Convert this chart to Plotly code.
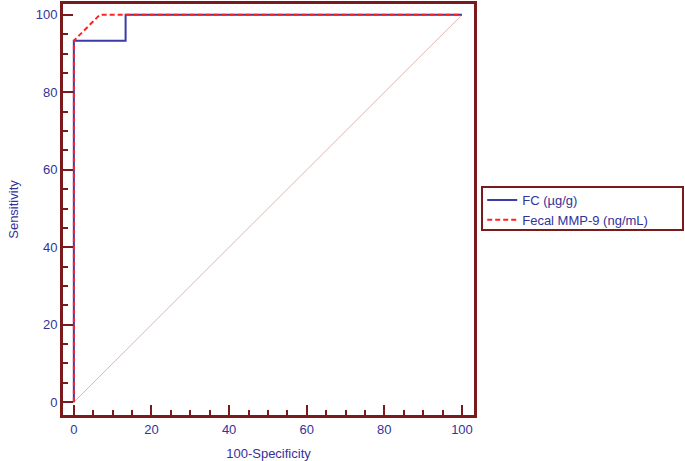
import plotly.graph_objects as go

# ROC data (100-Specificity, Sensitivity)
fc_x = [0, 0, 13.33, 13.33, 100]
fc_y = [0, 93.33, 93.33, 100, 100]
mmp_x = [0, 0, 6.67, 100]
mmp_y = [0, 93.33, 100, 100]
diag_x = [0, 100]
diag_y = [0, 100]

tick_vals = [0, 20, 40, 60, 80, 100]

frame = "#7a1a1a"
txt = "#33339a"
fnt = "Liberation Sans, Arial"

fig = go.Figure()
fig.add_trace(go.Scatter(x=diag_x, y=diag_y, mode="lines", showlegend=False,
                         line=dict(color="#e3b4b4", width=1), hoverinfo="skip"))
fig.add_trace(go.Scatter(x=fc_x, y=fc_y, mode="lines", name="FC (µg/g)",
                         line=dict(color="#3a3aa8", width=2)))
fig.add_trace(go.Scatter(x=mmp_x, y=mmp_y, mode="lines", name="Fecal MMP-9 (ng/mL)",
                         line=dict(color="#ff2020", width=2, dash="5px,3px")))

axis_common = dict(
    showline=True, linecolor=frame, linewidth=3, mirror=True,
    ticks="inside", ticklen=10, tickwidth=2, tickcolor=frame,
    tickvals=tick_vals, showgrid=False, zeroline=False, automargin=False,
    tickfont=dict(family=fnt, size=13, color=txt),
    minor=dict(ticks="inside", ticklen=5, tickwidth=1.5, tickcolor=frame, dtick=5, showgrid=False),
)

fig.update_xaxes(range=[-2.8, 103.1], title=dict(text="100-Specificity",
                 font=dict(family=fnt, size=13, color=txt)), **axis_common)
fig.update_yaxes(range=[-3.3, 102.8], title=dict(text="Sensitivity",
                 font=dict(family=fnt, size=13, color=txt)), **axis_common)

# legend box drawn as a paper-anchored rectangle
fig.add_shape(type="rect", xref="paper", yref="paper",
              x0=1.0195, x1=1.5085, y0=0.4501, y1=0.5547,
              line=dict(color=frame, width=2), fillcolor="rgba(0,0,0,0)")

fig.update_layout(
    width=685, height=461,
    margin=dict(l=63, r=211, t=4, b=46),
    plot_bgcolor="white", paper_bgcolor="white",
    font=dict(family=fnt, size=13, color=txt),
    legend=dict(x=1.02, y=0.5596, xanchor="left", yanchor="top",
                borderwidth=0, bgcolor="rgba(0,0,0,0)",
                font=dict(family=fnt, size=13, color=txt),
                itemwidth=30, tracegroupgap=0),
)

fig.write_html("out.html", config={"displayModeBar": False},
               post_script="document.body.style.margin='0';")
